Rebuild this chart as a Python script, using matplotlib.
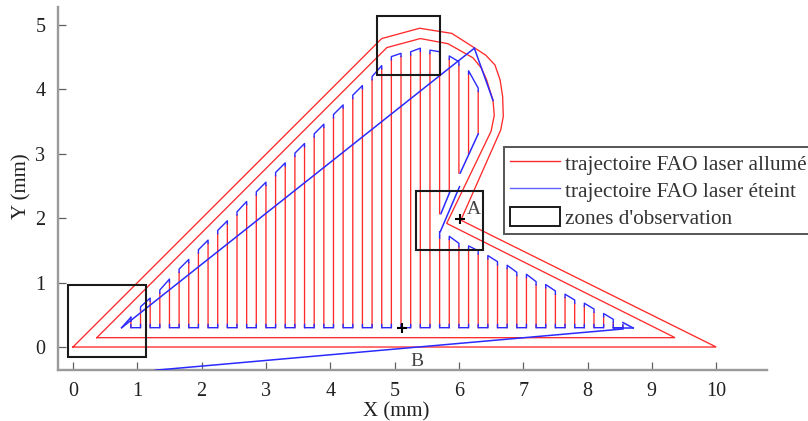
import matplotlib
matplotlib.use("Agg")
import matplotlib.pyplot as plt
from matplotlib.lines import Line2D
from matplotlib.patches import Rectangle, Patch

plt.rcParams['font.family'] = ['Liberation Serif', 'DejaVu Serif']

RED = '#ff2a2a'
BLUE = '#2a2aff'

# outer and inner contours (mm)
outer_x = [0, 4.80, 5.39, 5.89, 6.22, 6.42, 6.56, 6.64, 6.68, 6.69, 6.65, 6.03, 10, 0]
outer_y = [0, 4.79, 4.95, 4.87, 4.66, 4.53, 4.38, 4.15, 3.89, 3.58, 3.37, 1.97, 0, 0]
inner_x = [0.37, 4.88, 5.40, 5.83, 6.22, 6.35, 6.43, 6.53, 6.55, 6.50, 5.81, 9.36, 0.37]
inner_y = [0.145, 4.65, 4.79, 4.71, 4.49, 4.33, 4.15, 3.83, 3.60, 3.35, 1.92, 0.145, 0.145]

# raster columns
col_x = [0.90, 1.05, 1.20, 1.35, 1.50, 1.65, 1.80, 1.95, 2.10, 2.25, 2.40, 2.55, 2.70,
         2.85, 3.00, 3.15, 3.30, 3.45, 3.60, 3.75, 3.90, 4.05, 4.20, 4.35, 4.50, 4.65,
         4.80, 4.95, 5.10, 5.25, 5.40, 5.55, 5.70, 5.85, 6.00, 6.15, 6.30, 6.45, 6.60,
         6.75, 6.90, 7.05, 7.20, 7.35, 7.50, 7.65, 7.80, 7.95, 8.10, 8.25, 8.40, 8.55]
col_top = [0.46, 0.625, 0.76, 0.885, 1.055, 1.21, 1.36, 1.51, 1.66, 1.81, 1.96, 2.10, 2.26,
           2.41, 2.56, 2.71, 2.86, 3.01, 3.16, 3.31, 3.46, 3.61, 3.76, 3.91, 4.06, 4.20,
           4.37, 4.51, 4.56, 4.585, 4.64, 4.61, 4.585, 4.52, 4.43, 4.29, 4.02, 1.42, 1.325,
           1.27, 1.16, 1.13, 1.015, 0.97, 0.87, 0.82, 0.73, 0.68, 0.59, 0.52, 0.43, 0.38]
col_base = [0.30] * 32 + [2.07, 2.41, 2.70, 3.00, 3.31] + [0.30] * 15

# lower parts of the columns interrupted by the notch
notch_x = [5.70, 5.85, 6.00, 6.15, 6.30]
notch_top = [1.79, 1.72, 1.61, 1.57, 1.495]
notch_base = [0.30, 0.30, 0.30, 0.30, 0.30]

# laser-off travel moves: (x0, y0, x1, y1)
travel_x0 = [0.757, 0.90, 0.757, 6.24, 6.30, 5.86, 6.01, 8.55, 8.71, 8.55, 1.28]
travel_y0 = [0.30, 0.46, 0.30, 4.64, 3.31, 2.41, 2.49, 0.38, 0.295, 0.295, -0.36]
travel_x1 = [0.90, 0.90, 6.24, 6.53, 6.02, 5.72, 5.71, 8.71, 8.55, 8.40, 8.55]
travel_y1 = [0.46, 0.40, 4.64, 3.83, 2.70, 2.07, 1.79, 0.295, 0.295, 0.295, 0.28]

# observation zones: x, y, width, height
zone_x = [-0.07, 4.73, 5.34]
zone_y = [-0.16, 4.22, 1.50]
zone_w = [1.20, 0.98, 1.03]
zone_h = [1.12, 0.92, 0.93]

mark_x = [6.02, 5.11]
mark_y = [1.99, 0.29]

ticks_x = [0, 1, 2, 3, 4, 5, 6, 7, 8, 9, 10]
ticks_y = [0, 1, 2, 3, 4, 5]
legend_labels = ['trajectoire FAO laser allumé', 'trajectoire FAO laser éteint', "zones d'observation"]

fig = plt.figure(figsize=(8.08, 4.21), dpi=100)
ax = fig.add_axes([58 / 808, 1 - 370 / 421, (767 - 58) / 808, (370 - 7) / 421])
ax.set_xlim(-0.233, 10.79)
ax.set_ylim(-0.357, 5.28)


def red(xs, ys, lw=0.95):
    ax.plot(xs, ys, color=RED, lw=lw, solid_joinstyle='miter', snap=False, zorder=2)


def blue(xs, ys, lw=1.0):
    ax.plot(xs, ys, color=BLUE, lw=lw, solid_joinstyle='round', snap=False, zorder=3)


red(outer_x, outer_y)
red(inner_x, inner_y)

CAP = 0.05
for x, t, b in zip(col_x, col_top, col_base):
    red([x, x], [b, t - CAP])
for x, t, b in zip(notch_x, notch_top, notch_base):
    red([x, x], [b, t - CAP])

# top links between column pairs
for k in range(1, 50, 2):
    blue([col_x[k], col_x[k], col_x[k + 1], col_x[k + 1]],
         [col_top[k] - CAP, col_top[k], col_top[k + 1], col_top[k + 1] - CAP])
for k in (1, 3):
    blue([notch_x[k], notch_x[k], notch_x[k + 1], notch_x[k + 1]],
         [notch_top[k] - CAP, notch_top[k], notch_top[k + 1], notch_top[k + 1] - CAP])
blue([notch_x[0], notch_x[0]], [notch_top[0], notch_top[0] - 2 * CAP])

# bottom links between column pairs
for k in range(0, 51, 2):
    blue([col_x[k], col_x[k], col_x[k + 1], col_x[k + 1]],
         [0.30 + CAP, 0.30, 0.30, 0.30 + CAP])

for x0, y0, x1, y1 in zip(travel_x0, travel_y0, travel_x1, travel_y1):
    blue([x0, x1], [y0, y1], lw=1.1)

for x, y, w, h in zip(zone_x, zone_y, zone_w, zone_h):
    ax.add_patch(Rectangle((x, y), w, h, fill=False, ec='#1a1a1a', lw=1.5, zorder=4))

ax.plot(mark_x, mark_y, ls='none', marker='+', color='black', ms=6.5, mew=1.5, zorder=5)
ax.text(6.12, 2.0, 'A', fontsize=14, color='#444444', va='bottom', ha='left')
ax.text(5.35, -0.1, 'B', fontsize=14, color='#444444', va='top', ha='center')

for s in ('top', 'right'):
    ax.spines[s].set_visible(False)
for s in ('left', 'bottom'):
    ax.spines[s].set_color('#9a9a9a')
    ax.spines[s].set_linewidth(1.7)
ax.set_xticks(ticks_x)
ax.set_yticks(ticks_y)
ax.tick_params(axis='both', direction='in', length=6, width=0.9, color='#606060',
               labelsize=14.5, labelcolor='#222222')
ax.tick_params(axis='x', pad=9)
ax.tick_params(axis='y', pad=9)
ax.set_xlabel('X (mm)', fontsize=15, color='#222222')
ax.xaxis.set_label_coords((396 - 58) / 709, -0.09)
ax.set_ylabel('Y (mm)', fontsize=15, color='#222222')
ax.yaxis.set_label_coords(-0.037, (370 - 186) / 363)

handles = [Line2D([], [], color=RED, lw=1.0),
           Line2D([], [], color='#6060ff', lw=1.0),
           Patch(facecolor='white', edgecolor='#1a1a1a', lw=1.4)]
leg = ax.legend(handles, legend_labels, loc='upper left',
                bbox_to_anchor=(504 / 808, 1 - 147 / 421), bbox_transform=fig.transFigure,
                borderaxespad=0, fontsize=15.3, fancybox=False, framealpha=1,
                edgecolor='#555555', handlelength=2.35, handleheight=1.0, handletextpad=0.25,
                labelspacing=0.24, borderpad=0.28, labelcolor='#333333')
leg.get_frame().set_linewidth(1.4)
leg.set_zorder(6)
fig.savefig('out.png', dpi=100, facecolor='white')
